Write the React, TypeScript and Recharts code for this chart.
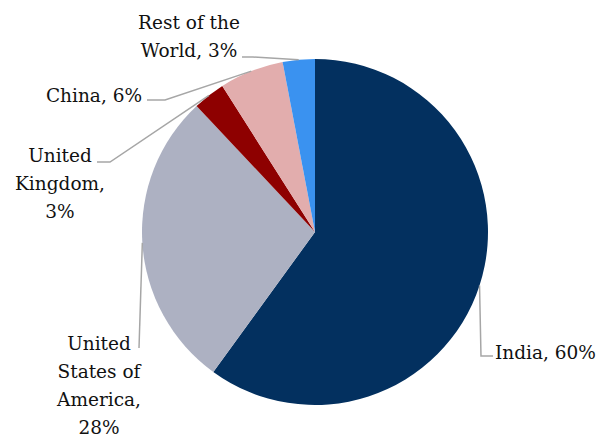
import { PieChart, Pie, Cell } from "recharts";

const countries = ["India", "United States of America", "United Kingdom", "China", "Rest of the World"];
const shares = [60, 28, 3, 6, 3];
const colors = ["#03305f", "#adb1c2", "#8e0000", "#e2adad", "#3a92f0"];

// label placement: elbow of the leader line, end of its flat part, text anchor and wrap width
const labelLayout = [
  { ex: 481, ey: 356, hx: 493, tx: 495, ty: 352, anchor: "start", wrap: 20 },
  { ex: 139, ey: 348, hx: 139, tx: 99, ty: 343, anchor: "middle", wrap: 9 },
  { ex: 110, ey: 162, hx: 97, tx: 60, ty: 155, anchor: "middle", wrap: 9 },
  { ex: 165, ey: 100, hx: 147, tx: 142, ty: 95, anchor: "end", wrap: 20 },
  { ex: 253, ey: 57, hx: 242, tx: 189, ty: 22, anchor: "middle", wrap: 11 },
];

const data = countries.map((name, i) => ({ name, value: shares[i] }));

const RAD = Math.PI / 180;
const LINE_H = 28;

function wrapText(text: string, max: number) {
  const words = text.split(" ");
  const lines: string[] = [];
  let cur = "";
  for (const w of words) {
    const next = cur ? cur + " " + w : w;
    if (next.length > max && cur) {
      lines.push(cur);
      cur = w;
    } else {
      cur = next;
    }
  }
  if (cur) lines.push(cur);
  return lines;
}

function renderLabel(props: any) {
  const { cx, cy, midAngle, outerRadius, percent, index, name } = props;
  const l = labelLayout[index];
  const sx = cx + outerRadius * Math.cos(-midAngle * RAD);
  const sy = cy + outerRadius * Math.sin(-midAngle * RAD);
  const lines = wrapText(`${name}, ${Math.round(percent * 100)}%`, l.wrap);
  return (
    <g key={`lbl-${index}`}>
      <polyline
        points={`${sx},${sy} ${l.ex},${l.ey} ${l.hx},${l.ey}`}
        fill="none"
        stroke="#a6a6a6"
        strokeWidth={1.5}
      />
      <text
        x={l.tx}
        y={l.ty}
        textAnchor={l.anchor}
        dominantBaseline="central"
        fontFamily="'DejaVu Serif', serif"
        fontSize={18.5}
        fill="#111"
      >
        {lines.map((ln, k) => (
          <tspan key={k} x={l.tx} dy={k === 0 ? 0 : LINE_H}>
            {ln}
          </tspan>
        ))}
      </text>
    </g>
  );
}

export default function App() {
  return (
    <div style={{ position: "absolute", left: 0, top: 0, width: 603, height: 439, background: "#fff" }}>
      <PieChart width={603} height={439} margin={{ top: 0, right: 0, bottom: 0, left: 0 }}>
        <Pie
          data={data}
          dataKey="value"
          nameKey="name"
          cx={315}
          cy={232}
          outerRadius={173}
          startAngle={90}
          endAngle={-270}
          stroke="none"
          label={renderLabel}
          labelLine={false}
          isAnimationActive={false}
        >
          {data.map((d, i) => (
            <Cell key={`cell-${i}`} fill={colors[i]} />
          ))}
        </Pie>
      </PieChart>
    </div>
  );
}
